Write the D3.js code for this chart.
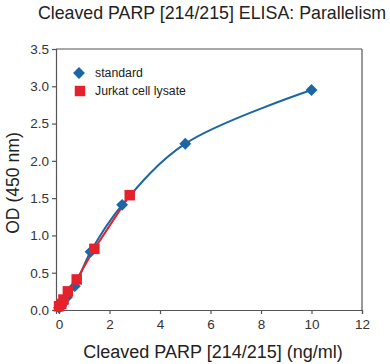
<!DOCTYPE html>
<html><head><meta charset="utf-8">
<script src="https://cdn.jsdelivr.net/npm/d3@7"></script>
<style>body{margin:0;background:#fff}text{font-family:"Liberation Sans",Arial,sans-serif}</style>
</head><body><svg id="c" width="390" height="364"></svg>
<script>
const stdX = [0, 0.078, 0.156, 0.3125, 0.625, 1.25, 2.5, 5, 10];
const stdY = [0.03, 0.05, 0.09, 0.17, 0.32, 0.78, 1.41, 2.23, 2.95];
const lysX = [0, 0.0875, 0.175, 0.35, 0.7, 1.4, 2.8];
const lysY = [0.05, 0.08, 0.14, 0.25, 0.41, 0.82, 1.54];
const xTicks = [0, 2, 4, 6, 8, 10, 12];
const yTicks = [0, 0.5, 1.0, 1.5, 2.0, 2.5, 3.0, 3.5];
const seriesNames = ["standard", "Jurkat cell lysate"];
const colors = ["#1b66a6", "#e5222c"];

const svg = d3.select("#c");
const L = 56, R = 362, T = 49, B = 310;
const x = d3.scaleLinear().domain([-0.12, 12]).range([L, R]);
const y = d3.scaleLinear().domain([0, 3.5]).range([B, T]);

svg.append("text").attr("x", 212).attr("y", 19).attr("text-anchor", "middle")
  .attr("font-size", 17.8).attr("fill", "#222").text("Cleaved PARP [214/215] ELISA: Parallelism");

const gx = svg.append("g").attr("transform", `translate(0,${B})`)
  .call(d3.axisBottom(x).tickValues(xTicks).tickFormat(d3.format("d")).tickSizeOuter(0).tickSize(4));
const gy = svg.append("g").attr("transform", `translate(${L},0)`)
  .call(d3.axisLeft(y).tickValues(yTicks).tickFormat(d3.format(".1f")).tickSizeOuter(0).tickSize(4));
[gx, gy].forEach(g => {
  g.selectAll("path,line").attr("stroke", "#555").attr("stroke-width", 1.2);
  g.selectAll("text").attr("font-size", 13.5).attr("fill", "#333").attr("font-family", "Liberation Sans, Arial, sans-serif");
});
gx.selectAll("text").attr("dy", "0.9em");
svg.append("line").attr("x1", L).attr("x2", R).attr("y1", T).attr("y2", T).attr("stroke", "#555").attr("stroke-width", 1.2);
svg.append("line").attr("x1", R).attr("x2", R).attr("y1", T).attr("y2", B).attr("stroke", "#555").attr("stroke-width", 1.2);

svg.append("text").attr("transform", `translate(19,183) rotate(-90)`).attr("text-anchor", "middle")
  .attr("font-size", 17.6).attr("fill", "#222").text("OD (450 nm)");
svg.append("text").attr("x", 213).attr("y", 358).attr("text-anchor", "middle")
  .attr("font-size", 18).attr("fill", "#222").text("Cleaved PARP [214/215] (ng/ml)");

const stdPts = stdX.map((v, i) => [v, stdY[i]]);
const lysPts = lysX.map((v, i) => [v, lysY[i]]);

svg.append("path").datum(stdPts).attr("fill", "none").attr("stroke", colors[0]).attr("stroke-width", 2)
  .attr("d", d3.line().x(d => x(d[0])).y(d => y(d[1])).curve(d3.curveCatmullRom.alpha(0.5)));
svg.append("path").datum(lysPts).attr("fill", "none").attr("stroke", colors[1]).attr("stroke-width", 2)
  .attr("d", d3.line().x(d => x(d[0])).y(d => y(d[1])));

const diamond = d3.symbol().type(d3.symbolDiamond2).size(90);
const square = d3.symbol().type(d3.symbolSquare).size(110);
svg.append("g").selectAll("path").data(stdPts).join("path")
  .attr("transform", d => `translate(${x(d[0])},${y(d[1])})`).attr("d", diamond).attr("fill", colors[0]);
svg.append("g").selectAll("path").data(lysPts).join("path")
  .attr("transform", d => `translate(${x(d[0])},${y(d[1])})`).attr("d", square).attr("fill", colors[1]);

const lg = svg.append("g");
lg.append("path").attr("transform", "translate(79,73)").attr("d", diamond).attr("fill", colors[0]);
lg.append("path").attr("transform", "translate(80,91)").attr("d", square).attr("fill", colors[1]);
lg.append("text").attr("x", 95).attr("y", 77).attr("font-size", 12.3).attr("fill", "#222").text(seriesNames[0]);
lg.append("text").attr("x", 95).attr("y", 95).attr("font-size", 12.3).attr("fill", "#222").text(seriesNames[1]);
</script></body></html>
